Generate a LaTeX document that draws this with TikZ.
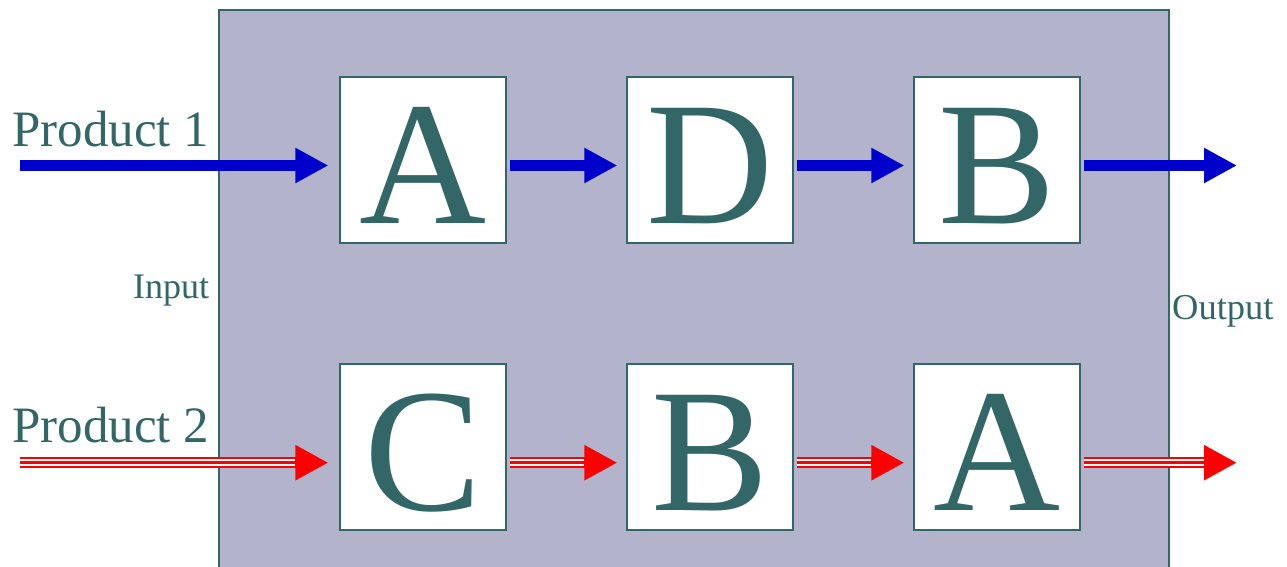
\documentclass[tikz,border=0pt]{standalone}
\usepackage{fontspec}
\setmainfont{Liberation Serif}
\usetikzlibrary{arrows.meta}

\definecolor{inkteal}{HTML}{336666}
\definecolor{panelgrey}{RGB}{179,180,204}
\definecolor{flowblue}{HTML}{0000CC}
\definecolor{flowred}{HTML}{FF0000}

% triple red line: solid band with arrow head, white gap, red core
\newcommand\tripleroute[5]{%
  \draw[redouter, shorten <=#3, shorten >=#4] (#1) -- (#2);
  \draw[redgap,   shorten <=#3, shorten >=#5] (#1) -- (#2);
  \draw[redcore,  shorten <=#3, shorten >=#5] (#1) -- (#2);
}

\begin{document}
\begin{tikzpicture}[x=1pt,y=1pt,
  panel/.style={draw=inkteal, line width=1.5pt, fill=panelgrey,
    minimum width=950pt, minimum height=570pt, inner sep=0pt},
  station/.style={draw=inkteal, line width=1.2pt, fill=white,
    minimum size=166pt, inner sep=0pt, text=inkteal,
    font=\fontsize{176}{176}\selectfont, text height=128pt, text depth=0pt},
  tag/.style={text=inkteal, inner sep=0pt, anchor=base west},
  bluearrow/.style={draw=flowblue, line width=10.5pt,
    -{Triangle[length=33pt,width=33pt]}},
  redouter/.style={draw=flowred, line width=11.5pt,
    -{Triangle[length=33pt,width=33pt]}},
  redgap/.style={draw=white, line width=7.5pt},
  redcore/.style={draw=flowred, line width=3pt}
]
\useasboundingbox (0,0) rectangle (1287,567);

% plant area
\node[panel] (plant) at (694,272) {};

% machines
\node[station] (a1) at (423,407) {A};
\node[station] (d1) at (710,407) {D};
\node[station] (b1) at (997,407) {B};
\node[station] (c2) at (423,120) {C};
\node[station] (b2) at (710,120) {B};
\node[station] (a2) at (997,120) {A};

% free ends of the flows
\coordinate (in1)  at (20,401.5);
\coordinate (out1) at (1237,401.5);
\coordinate (in2)  at (20,104.3);
\coordinate (out2) at (1237,104.3);

% product 1 route
\draw[bluearrow, shorten >=11pt] (in1) -- (a1.west |- in1);
\draw[bluearrow, shorten <=3pt, shorten >=9pt] (a1.east |- in1) -- (d1.west |- in1);
\draw[bluearrow, shorten <=3pt, shorten >=9pt] (d1.east |- in1) -- (b1.west |- in1);
\draw[bluearrow, shorten <=3pt] (b1.east |- in1) -- (out1);

% product 2 route
\tripleroute{in2}{c2.west |- in2}{0pt}{11pt}{44pt}
\tripleroute{c2.east |- in2}{b2.west |- in2}{3pt}{9pt}{42pt}
\tripleroute{b2.east |- in2}{a2.west |- in2}{3pt}{9pt}{42pt}
\tripleroute{a2.east |- in2}{out2}{3pt}{0pt}{33pt}

% labels
\node[tag, font=\fontsize{51}{51}\selectfont] (p1) at (12,420) {Product 1};
\node[tag, font=\fontsize{51}{51}\selectfont] (p2) at (12,124) {Product 2};
\node[tag, font=\fontsize{36}{36}\selectfont] (inlbl) at (133,268) {Input};
\node[tag, font=\fontsize{36.5}{36.5}\selectfont] (outlbl) at (1172,247) {Output};
\end{tikzpicture}
\end{document}
